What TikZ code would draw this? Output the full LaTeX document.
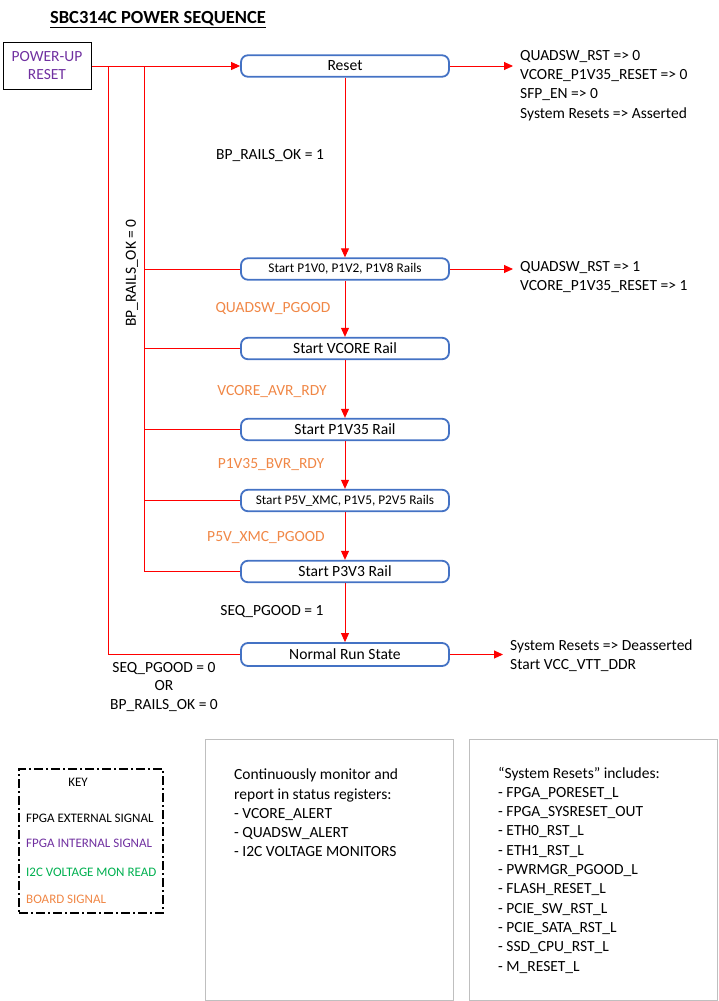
\documentclass[tikz,border=0pt]{standalone}
\usepackage{fontspec}
\setmainfont{Carlito}
\usetikzlibrary{arrows.meta}
\definecolor{flowred}{RGB}{255,0,0}
\definecolor{stateblue}{RGB}{68,114,196}
\definecolor{intpurple}{RGB}{112,48,160}
\definecolor{boardorange}{RGB}{240,135,70}
\definecolor{i2cgreen}{RGB}{0,176,80}
\definecolor{panelgray}{RGB}{191,191,191}

\begin{document}
\begin{tikzpicture}[x=1pt,y=-1pt,
  state/.style={draw=stateblue, line width=1.8pt, rounded corners=7pt,
    minimum width=208pt, minimum height=21.5pt, inner sep=0pt,
    font=\fontsize{15.6}{18}\selectfont},
  smallstate/.style={state, font=\fontsize{13.3}{16}\selectfont},
  flow/.style={draw=flowred, line width=0.9pt},
  arr/.style={flow, -{Triangle[length=9pt,width=8pt]}},
  lbl/.style={inner sep=0pt, font=\fontsize{15.5}{19.3}\selectfont},
  sig/.style={lbl, text=boardorange},
  outtxt/.style={lbl, align=left, anchor=west},
  keytxt/.style={inner sep=0pt, anchor=west, font=\fontsize{13}{15}\selectfont},
  panel/.style={draw=panelgray, line width=1pt, minimum width=248pt, minimum height=261pt, inner sep=0pt}
]
\useasboundingbox (0,0) rectangle (718,1001);

% title
\node[inner sep=0pt, font=\bfseries\fontsize{18.5}{22}\selectfont] (title) at (158,20)
  {\underline{SBC314C POWER SEQUENCE}};

% start box
\node[draw=black, line width=1pt, minimum width=88pt, minimum height=47pt, inner sep=0pt,
  align=center, text=intpurple, font=\fontsize{15.5}{18}\selectfont] (pur) at (47,66)
  {POWER-UP\\RESET};

% sequence states
\node[state] (reset) at (345,66) {Reset};
\node[smallstate] (s1) at (345,269) {Start P1V0, P1V2, P1V8 Rails};
\node[state] (s2) at (345,348.5) {Start VCORE Rail};
\node[state] (s3) at (345,429.5) {Start P1V35 Rail};
\node[smallstate] (s4) at (345,500.5) {Start P5V\_XMC, P1V5, P2V5 Rails};
\node[state] (s5) at (345,571.5) {Start P3V3 Rail};
\node[state, minimum height=23pt] (run) at (345,654.5) {Normal Run State};

% junctions of the return paths
\coordinate (jo) at (108,66);
\coordinate (ji) at (144,66);
\coordinate (o1) at (513,66);
\coordinate (o2) at (513,269);
\coordinate (o3) at (503,654.5);

% return paths to reset
\draw[flow] (run.west) -| (jo);
\foreach \s in {s1,s2,s3,s4,s5} \draw[flow] (\s.west) -| (ji);
\draw[arr] (pur.east) -- (reset.west);

% forward sequence
\draw[arr] (reset) -- (s1);
\draw[arr] (s1) -- (s2);
\draw[arr] (s2) -- (s3);
\draw[arr] (s3) -- (s4);
\draw[arr] (s4) -- (s5);
\draw[arr] (s5) -- (run);

% outputs
\draw[arr] (reset.east) -- (o1);
\draw[arr] (s1.east) -- (o2);
\draw[arr] (run.east) -- (o3);

% transition labels
\node[lbl] (l1) at (270,155.5) {BP\_RAILS\_OK = 1};
\node[lbl, rotate=90] (l0) at (132,273) {BP\_RAILS\_OK = 0};
\node[sig] (g1) at (273,308.5) {QUADSW\_PGOOD};
\node[sig] (g2) at (272,391.5) {VCORE\_AVR\_RDY};
\node[sig] (g3) at (271,464.5) {P1V35\_BVR\_RDY};
\node[sig] (g4) at (266,537.5) {P5V\_XMC\_PGOOD};
\node[lbl] (g5) at (272,611.5) {SEQ\_PGOOD = 1};
\node[lbl, align=center, font=\fontsize{15.5}{18.5}\selectfont] (g6) at (164,687)
  {SEQ\_PGOOD = 0\\OR\\BP\_RAILS\_OK = 0};

% output texts
\node[outtxt] (t1) at (520,85.5)
  {QUADSW\_RST => 0\\VCORE\_P1V35\_RESET => 0\\SFP\_EN => 0\\System Resets => Asserted};
\node[outtxt] (t2) at (520,277)
  {QUADSW\_RST => 1\\VCORE\_P1V35\_RESET => 1};
\node[outtxt] (t3) at (510,655.5)
  {System Resets => Deasserted\\Start VCC\_VTT\_DDR};

% key
\node[draw=black, line width=2pt, dash pattern=on 9pt off 3pt on 2pt off 3pt,
  minimum width=144pt, minimum height=144pt, inner sep=0pt] (key) at (91,841) {};
\node[keytxt, anchor=center] (k0) at (78,782) {KEY};
\node[keytxt] (k1) at (26,818) {FPGA EXTERNAL SIGNAL};
\node[keytxt, text=intpurple] (k2) at (26,843) {FPGA INTERNAL SIGNAL};
\node[keytxt, text=i2cgreen] (k3) at (26,872) {I2C VOLTAGE MON READ};
\node[keytxt, text=boardorange] (k4) at (26,899) {BOARD SIGNAL};

% note panels
\node[panel] (mon) at (329,869.5) {};
\node[panel] (rst) at (593,869.5) {};
\node[outtxt] (mt) at (234,813)
  {Continuously monitor and\\report in status registers:\\- VCORE\_ALERT\\- QUADSW\_ALERT\\- I2C VOLTAGE MONITORS};
\node[outtxt] (rt) at (498,870)
  {“System Resets” includes:\\- FPGA\_PORESET\_L\\- FPGA\_SYSRESET\_OUT\\- ETH0\_RST\_L\\- ETH1\_RST\_L\\- PWRMGR\_PGOOD\_L\\- FLASH\_RESET\_L\\- PCIE\_SW\_RST\_L\\- PCIE\_SATA\_RST\_L\\- SSD\_CPU\_RST\_L\\- M\_RESET\_L};
\end{tikzpicture}
\end{document}
